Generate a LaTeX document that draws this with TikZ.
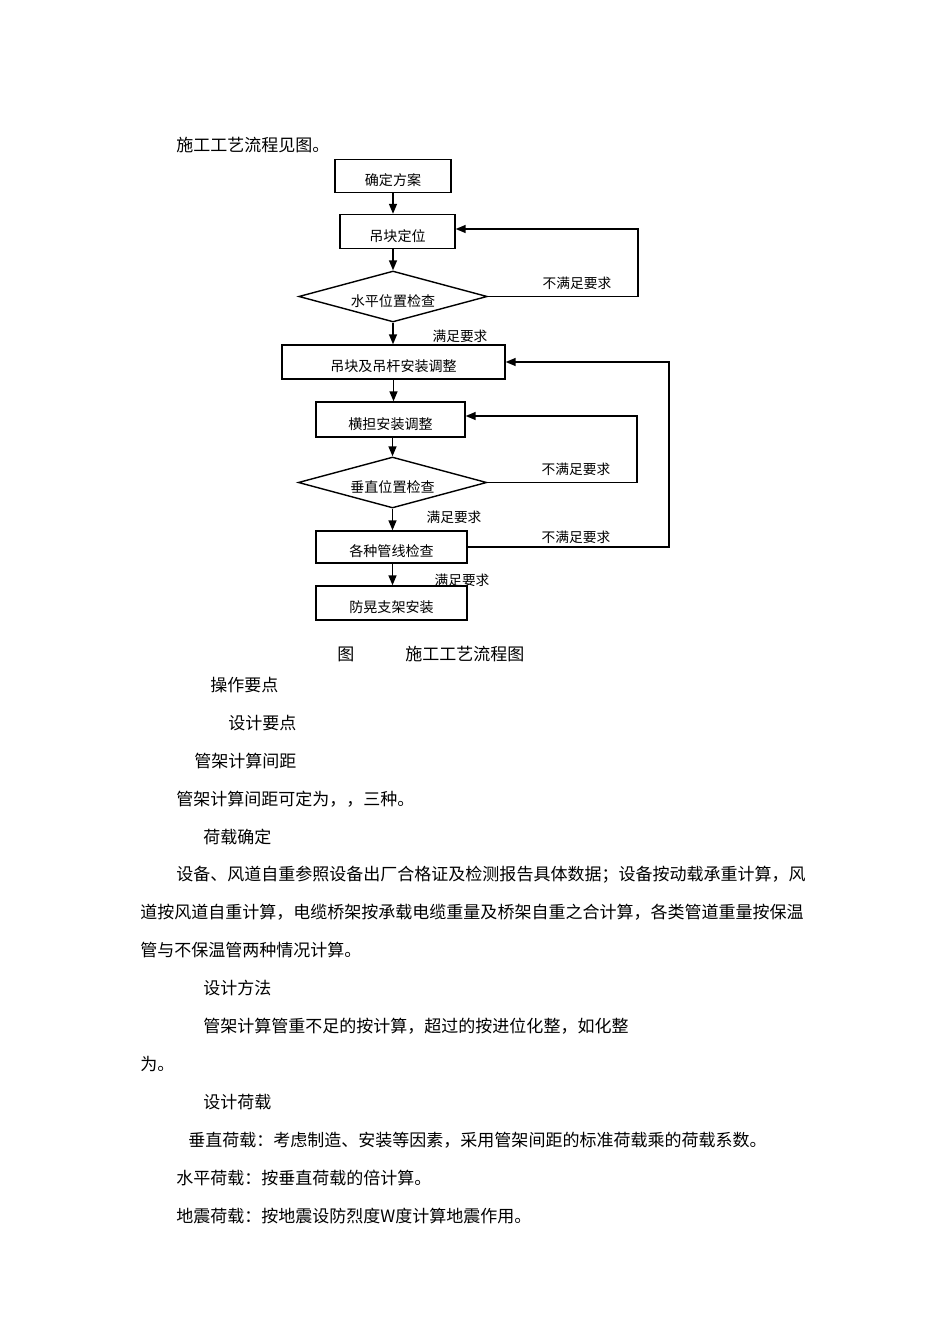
\documentclass[tikz,border=0pt]{standalone}
\usepackage{fontspec}
\setmainfont{Noto Sans CJK SC}
\usetikzlibrary{arrows.meta,shapes.geometric}

\begin{document}
\begin{tikzpicture}[x=0.02cm,y=-0.02cm,
    procbox/.style={draw,line width=.8pt,inner sep=0,text height=12pt,text depth=1pt,font=\fontsize{8}{10}\selectfont},
    check/.style={diamond,draw,line width=.8pt,inner sep=0,shape aspect=3.7,text height=12pt,text depth=1pt,
      minimum width=3.77cm,minimum height=1.02cm,font=\fontsize{8}{10}\selectfont},
    arr/.style={line width=.8pt,-{Triangle[length=2mm,width=1.6mm]}},
    lbl/.style={inner sep=0,font=\fontsize{7.8}{10}\selectfont},
    txt/.style={anchor=west,inner sep=0,font=\fontsize{9.68}{12}\selectfont}]
  \useasboundingbox (0,0) rectangle (950,1344);
  \node[txt] (intro) at (176,145) {施工工艺流程见图。};

  \node[procbox,minimum width=2.32cm,minimum height=.66cm] (fangan) at (393,176) {确定方案};
  \node[procbox,minimum width=2.3cm,minimum height=.68cm] (dingwei) at (397.5,231.5) {吊块定位};
  \node[check] (shuiping) at (393,296.5) {水平位置检查};
  \node[procbox,minimum width=4.46cm,minimum height=.68cm] (diaogan) at (393.5,362) {吊块及吊杆安装调整};
  \node[procbox,minimum width=2.98cm,minimum height=.7cm] (hengdan) at (390.5,419.5) {横担安装调整};
  \node[check] (chuizhi) at (392.5,482.5) {垂直位置检查};
  \node[procbox,minimum width=3.02cm,minimum height=.64cm] (guanxian) at (391.5,547) {各种管线检查};
  \node[procbox,minimum width=3.02cm,minimum height=.68cm] (fanghuang) at (391.5,603) {防晃支架安装};

  \draw[arr] (fangan.south) -- (fangan.south |- dingwei.north);
  \draw[arr] (shuiping.north |- dingwei.south) -- (shuiping.north);
  \draw[arr] (shuiping.south) -- (shuiping.south |- diaogan.north);
  \draw[arr] (diaogan.south) -- (diaogan.south |- hengdan.north);
  \draw[arr] (chuizhi.north |- hengdan.south) -- (chuizhi.north);
  \draw[arr] (chuizhi.south) -- (chuizhi.south |- guanxian.north);
  \draw[arr] (chuizhi.south |- guanxian.south) -- (chuizhi.south |- fanghuang.north);

  \coordinate (back1) at (638,229);
  \coordinate (back2) at (637,416);
  \coordinate (back3) at (669,362);
  \draw[arr] (shuiping.east) -| (back1) -- (back1 -| dingwei.east);
  \draw[arr] (chuizhi.east) -| (back2) -- (back2 -| hengdan.east);
  \draw[arr] (guanxian.east) -| (back3) -- (diaogan.east);

  \node[lbl] (no1) at (577,283) {不满足要求};
  \node[lbl] (yes1) at (460,336) {满足要求};
  \node[lbl] (no2) at (576,469) {不满足要求};
  \node[lbl] (yes2) at (454,517) {满足要求};
  \node[lbl] (no3) at (576,537) {不满足要求};
  \node[lbl] (yes3) at (462,580) {满足要求};

  \node[txt] (tu) at (337,654) {图};
  \node[txt] (tuming) at (405,654) {施工工艺流程图};

  \node[txt] (caozuo) at (210,685) {操作要点};
  \node[txt] (sheji) at (228,723) {设计要点};
  \node[txt] (jianju) at (194,761) {管架计算间距};
  \node[txt] (jianju2) at (176,799) {管架计算间距可定为，，三种。};
  \node[txt] (hezai) at (203,837) {荷载确定};
  \node[txt] (para1) at (176,875) {设备、风道自重参照设备出厂合格证及检测报告具体数据；设备按动载承重计算，风};
  \node[txt] (para2) at (140,912) {道按风道自重计算，电缆桥架按承载电缆重量及桥架自重之合计算，各类管道重量按保温};
  \node[txt] (para3) at (140,950) {管与不保温管两种情况计算。};
  \node[txt] (fangfa) at (203,988) {设计方法};
  \node[txt] (para4) at (203,1026) {管架计算管重不足的按计算，超过的按进位化整，如化整};
  \node[txt] (para5) at (140,1064) {为。};
  \node[txt] (shejihz) at (203,1102) {设计荷载};
  \node[txt] (chuizhihz) at (188,1140) {垂直荷载：考虑制造、安装等因素，采用管架间距的标准荷载乘的荷载系数。};
  \node[txt] (shuipinghz) at (176,1178) {水平荷载：按垂直荷载的倍计算。};
  \node[txt] (dizhenhz) at (176,1216) {地震荷载：按地震设防烈度W度计算地震作用。};
\end{tikzpicture}
\end{document}
